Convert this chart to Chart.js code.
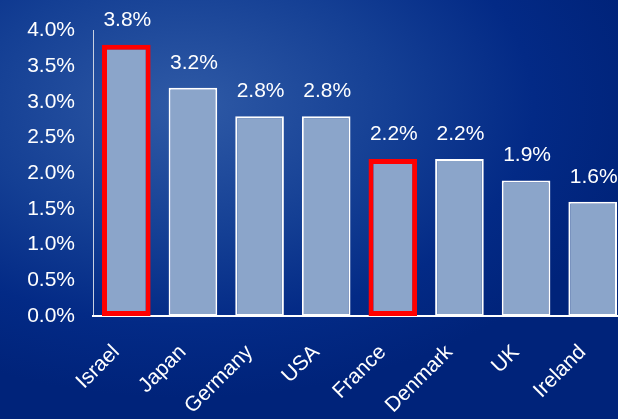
<!DOCTYPE html>
<html>
<head>
<meta charset="utf-8">
<script src="https://cdn.jsdelivr.net/npm/chart.js@4"></script>
<style>
  html, body { margin: 0; padding: 0; overflow: hidden; }
  body {
    width: 618px; height: 419px;
    background: radial-gradient(ellipse 75% 70% at 30% 25%, #2f5aa6 0%, #143f94 45%, #032a86 75%, #00237a 100%);
  }
  #wrap { position: absolute; left: 0; top: 0; width: 626px; height: 419px; }
</style>
</head>
<body>
<div id="wrap"><canvas id="growthChart" width="626" height="419"></canvas></div>
<script>
// chart values
const countries = ["Israel", "Japan", "Germany", "USA", "France", "Denmark", "UK", "Ireland"];
const values = [3.8, 3.2, 2.8, 2.8, 2.2, 2.2, 1.9, 1.6];
const highlighted = ["Israel", "France"];
const yTicks = [0, 0.5, 1, 1.5, 2, 2.5, 3, 3.5, 4];

const fontFamily = "'Liberation Sans', Arial, sans-serif";

// draws the value above each bar
const valueLabels = {
    id: "valueLabels",
    afterDatasetsDraw(chart) {
        const ctx = chart.ctx;
        const meta = chart.getDatasetMeta(0);
        ctx.save();
        ctx.fillStyle = "#ffffff";
        ctx.font = "21px " + fontFamily;
        ctx.textAlign = "center";
        ctx.textBaseline = "alphabetic";
        meta.data.forEach(function (bar, i) {
            ctx.fillText(values[i].toFixed(1) + "%", bar.x + 1, bar.y - 19);
        });
        ctx.restore();
    }
};

const ctx = document.getElementById("growthChart").getContext("2d");
const growthChart = new Chart(ctx, {
    type: "bar",
    data: {
        labels: countries,
        datasets: [
            {
                data: values,
                backgroundColor: "#8ba5ca",
                borderColor: countries.map(c => highlighted.includes(c) ? "#ff0000" : "#ffffff"),
                borderWidth: countries.map(c => highlighted.includes(c) ? 5 : 2),
                borderSkipped: false,
                barPercentage: 0.73,
                categoryPercentage: 1.0,
            },
        ],
    },
    options: {
        responsive: false,
        animation: false,
        layout: { padding: { top: 0, right: 0, bottom: 0, left: 0 } },
        plugins: {
            legend: { display: false },
            tooltip: { enabled: false },
        },
        scales: {
            y: {
                min: 0,
                max: 4,
                afterFit: function (scale) { scale.width = 93; },
                afterBuildTicks: function (scale) {
                    scale.ticks = yTicks.map(v => ({ value: v }));
                },
                grid: { display: false, drawTicks: false },
                border: { display: true, color: "#c8d0e0", width: 1 },
                ticks: {
                    color: "#ffffff",
                    font: { size: 21, family: fontFamily },
                    padding: 18,
                    callback: function (value) {
                        return value.toFixed(1) + "%";
                    },
                },
            },
            x: {
                afterFit: function (scale) {
                    scale.height = 103;
                    // keep the rotated labels from squeezing the plot
                    scale.paddingLeft = 0;
                    scale.paddingRight = 0;
                },
                grid: { display: false, drawTicks: false },
                border: { display: true, color: "#ffffff", width: 2 },
                ticks: {
                    color: "#ffffff",
                    font: { size: 21, family: fontFamily },
                    minRotation: 45,
                    maxRotation: 45,
                    padding: 24,
                    labelOffset: -10,
                },
            },
        },
    },
    plugins: [valueLabels],
});

// shift plot so the top of the axis lands where the reference has it
growthChart.options.layout.padding.top = 33 - growthChart.chartArea.top;
growthChart.update();
</script>
</body>
</html>
